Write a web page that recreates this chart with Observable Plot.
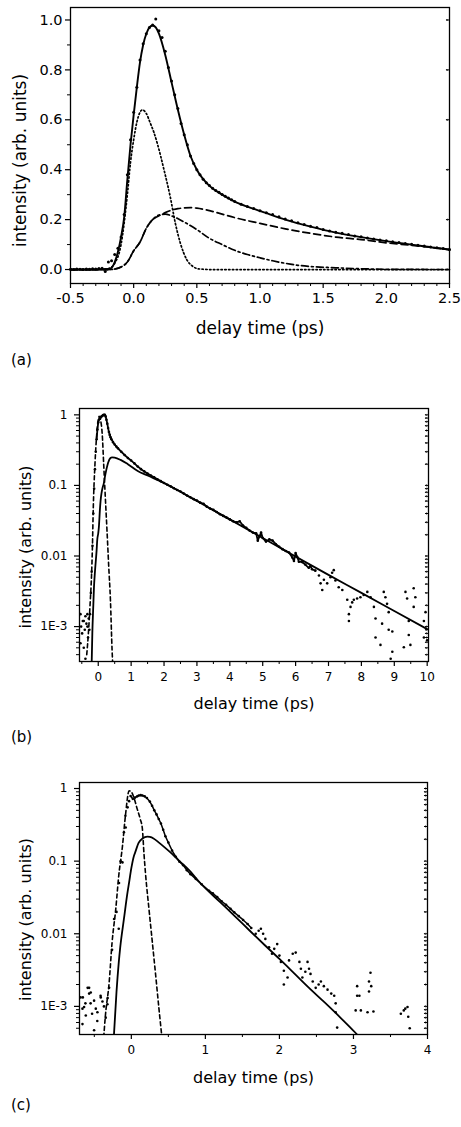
<!DOCTYPE html>
<html><head><meta charset="utf-8">
<script src="https://cdn.jsdelivr.net/npm/d3@7"></script>
<script src="https://cdn.jsdelivr.net/npm/@observablehq/plot@0.6"></script>
<style>
body{margin:0;background:#fff;}
#fig{position:relative;width:461px;height:1127px;background:#fff;font-family:"DejaVu Sans",sans-serif;overflow:hidden;}
.pan{position:absolute;left:0;}
.lab{position:absolute;left:11px;font-size:15px;line-height:18px;color:#000;font-family:"DejaVu Sans",sans-serif;}
</style></head><body><div id="fig"></div>
<script>
// ---------- Panel (a): linear intensity ----------
const aData = [[-0.5,0.001],[-0.475,0],[-0.45,0.002],[-0.425,0.001],[-0.4,0],[-0.375,0.002],[-0.35,0.001],[-0.325,0.003],[-0.3,0.002],[-0.275,0.004],[-0.25,0.005],[-0.225,-0.008],[-0.2,0.03],[-0.175,0.035],[-0.15,0.06],[-0.125,0.085],[-0.1,0.13],[-0.075,0.22],[-0.05,0.38],[-0.025,0.52],[0,0.63],[0.025,0.73],[0.05,0.84],[0.075,0.905],[0.1,0.945],[0.125,0.97],[0.15,0.98],[0.175,1.004],[0.2,0.957],[0.225,0.93],[0.25,0.875],[0.275,0.81],[0.3,0.755],[0.325,0.7],[0.35,0.645],[0.375,0.585],[0.4,0.54],[0.425,0.5],[0.45,0.455],[0.475,0.425],[0.5,0.4],[0.525,0.38],[0.55,0.362],[0.575,0.348],[0.6,0.337],[0.625,0.326],[0.65,0.317],[0.675,0.31],[0.7,0.301],[0.725,0.294],[0.75,0.287],[0.775,0.28],[0.8,0.273],[0.85,0.262],[0.9,0.253],[0.95,0.245],[1.0,0.236],[1.05,0.228],[1.1,0.22],[1.15,0.211],[1.2,0.202],[1.25,0.195],[1.3,0.187],[1.35,0.18],[1.4,0.173],[1.45,0.168],[1.5,0.16],[1.55,0.154],[1.6,0.149],[1.65,0.145],[1.7,0.14],[1.75,0.134],[1.8,0.131],[1.85,0.126],[1.9,0.122],[1.95,0.118],[2.0,0.115],[2.05,0.111],[2.1,0.108],[2.15,0.104],[2.2,0.101],[2.25,0.097],[2.3,0.094],[2.35,0.09],[2.4,0.087],[2.45,0.084],[2.5,0.08]];
const aFit = [[-0.5,0],[-0.3,0],[-0.25,0.001],[-0.2,0.002],[-0.18,0.005],[-0.15,0.03],[-0.125,0.07],[-0.1,0.13],[-0.075,0.21],[-0.05,0.36],[-0.025,0.5],[0,0.62],[0.025,0.73],[0.05,0.83],[0.075,0.9],[0.1,0.945],[0.125,0.97],[0.15,0.978],[0.175,0.97],[0.2,0.945],[0.25,0.86],[0.3,0.75],[0.35,0.64],[0.4,0.54],[0.45,0.455],[0.5,0.4],[0.6,0.335],[0.7,0.3],[0.8,0.272],[0.9,0.252],[1.0,0.235],[1.2,0.2],[1.4,0.172],[1.6,0.148],[1.8,0.13],[2.0,0.114],[2.2,0.1],[2.4,0.086],[2.5,0.08]];
const aShort = [[-0.5,0],[-0.3,0],[-0.2,0.004],[-0.15,0.025],[-0.1,0.1],[-0.05,0.3],[-0.025,0.43],[0,0.52],[0.025,0.59],[0.05,0.63],[0.07,0.64],[0.1,0.625],[0.133,0.585],[0.16,0.55],[0.19,0.5],[0.24,0.4],[0.29,0.29],[0.33,0.185],[0.37,0.105],[0.42,0.04],[0.47,0.012],[0.5,0.004],[0.55,0.001],[0.6,0],[1.0,0],[1.5,0],[2.0,0],[2.5,0]];
const aLong = [[-0.5,0],[-0.2,0],[-0.15,0.002],[-0.1,0.01],[-0.05,0.03],[0,0.075],[0.05,0.11],[0.1,0.165],[0.15,0.2],[0.2,0.215],[0.25,0.228],[0.3,0.238],[0.35,0.244],[0.4,0.247],[0.45,0.248],[0.5,0.246],[0.6,0.236],[0.7,0.222],[0.8,0.208],[1.0,0.185],[1.2,0.163],[1.4,0.145],[1.6,0.13],[1.8,0.12],[2.0,0.107],[2.2,0.097],[2.4,0.086],[2.5,0.079]];
const aMid = [[-0.5,0],[-0.2,0],[-0.15,0.002],[-0.1,0.01],[-0.05,0.03],[0,0.075],[0.05,0.11],[0.1,0.165],[0.15,0.2],[0.2,0.218],[0.25,0.222],[0.3,0.215],[0.4,0.19],[0.5,0.16],[0.6,0.125],[0.7,0.1],[0.8,0.077],[0.9,0.06],[1.0,0.047],[1.1,0.035],[1.2,0.025],[1.3,0.017],[1.4,0.012],[1.6,0.007],[1.8,0.003],[2.0,0.001],[2.5,0]];
const aXTicks = [-0.5,0,0.5,1.0,1.5,2.0,2.5];
const aXMinor = [-0.4,-0.3,-0.2,-0.1,0.1,0.2,0.3,0.4,0.6,0.7,0.8,0.9,1.1,1.2,1.3,1.4,1.6,1.7,1.8,1.9,2.1,2.2,2.3,2.4];
const aYTicks = [0,0.2,0.4,0.6,0.8,1.0];
const aYMinor = [0.1,0.3,0.5,0.7,0.9];

// ---------- Panel (b): log intensity, 0-10 ps ----------
const bData = [[-0.54,0.0015],[-0.54,0.00058],[-0.52,0.001],[-0.49,0.0008],[-0.47,0.0012],[-0.44,0.0012],[-0.44,0.0005],[-0.41,0.0009],[-0.39,0.0014],[-0.39,0.00035],[-0.36,0.0011],[-0.33,0.001],[-0.33,0.0015],[-0.31,0.0007],[-0.29,0.0013],[-0.27,0.0009],
 [-0.25,0.0015],[-0.225,0.003],[-0.2,0.006],[-0.175,0.014],[-0.15,0.04],[-0.125,0.09],[-0.1,0.17],[-0.075,0.3],[-0.05,0.45],[-0.025,0.62],[0,0.78],[0.025,0.86],[0.05,0.9],[0.075,0.92],[0.1,0.95],[0.125,0.97],[0.15,0.99],[0.175,1.0],[0.2,1.0],[0.225,0.95],[0.25,0.85],[0.275,0.75],[0.3,0.65],[0.325,0.57],[0.35,0.52],[0.375,0.48],[0.4,0.45],[0.45,0.41],[0.5,0.38],[0.55,0.355],[0.6,0.335],[0.7,0.3],[0.8,0.27],[0.9,0.245],[1.0,0.225],[1.1,0.205],[1.2,0.185],[1.3,0.17],[1.4,0.158],[1.5,0.147],[1.6,0.138],[1.7,0.13],[1.8,0.122],[1.9,0.115],[2.0,0.108],[2.1,0.102],[2.2,0.097],[2.3,0.091],[2.4,0.086],[2.5,0.082],[2.6,0.077],[2.7,0.072],[2.8,0.068],[2.9,0.064],[3.0,0.061],[3.1,0.057],[3.2,0.055],[3.3,0.05],[3.4,0.047],[3.5,0.045],[3.6,0.042],[3.7,0.039],[3.8,0.037],[3.9,0.035],[4.0,0.033],[4.1,0.031],[4.2,0.03],[4.3,0.031],[4.4,0.027],[4.5,0.025],[4.6,0.023],[4.7,0.0215],[4.8,0.021],[4.85,0.0165],[4.9,0.019],[4.95,0.0215],[5.0,0.018],[5.1,0.016],[5.2,0.0172],[5.3,0.0165],[5.4,0.0147],[5.5,0.0135],[5.6,0.0125],[5.7,0.0118],[5.8,0.0112],[5.9,0.0095],[5.95,0.0085],[6.0,0.011],[6.05,0.0097],[6.1,0.0083],[6.2,0.0082],[6.3,0.0075],[6.4,0.0068],[6.45,0.0072],[6.5,0.0065],[6.6,0.0062],
 [6.71,0.0053],[6.76,0.0041],[6.81,0.0033],[6.86,0.0046],[6.96,0.0041],[7.06,0.005],[7.11,0.0058],[7.16,0.0063],[7.21,0.0045],[7.31,0.0036],[7.42,0.0033],[7.57,0.0024],[7.62,0.0015],[7.62,0.0012],[7.67,0.0019],[7.72,0.0022],[7.77,0.0024],[7.87,0.0025],[7.97,0.0026],[8.07,0.0028],[8.18,0.0031],[8.28,0.0026],[8.38,0.0019],[8.43,0.0013],[8.43,0.0007],[8.58,0.00055],[8.63,0.0011],[8.68,0.0031],[8.73,0.0026],[8.78,0.0021],[8.83,0.0016],[8.83,0.0009],[8.94,0.00085],[8.89,0.00035],[8.94,0.00044],[9.29,0.00051],[9.34,0.0031],[9.39,0.0025],[9.44,0.0012],[9.44,0.00076],[9.49,0.00055],[9.59,0.0035],[9.64,0.0026],[9.59,0.0019],[9.9,0.0012],[9.9,0.0007],[9.95,0.0016],[10.0,0.00064]];
const bFit = [[-0.2,0.0003],[-0.18,0.0008],[-0.15,0.002],[-0.13,0.0036],[-0.1,0.006],[-0.05,0.012],[-0.03,0.017],[0,0.021],[0.02,0.026],[0.05,0.045],[0.07,0.06],[0.1,0.078],[0.13,0.092],[0.17,0.108],[0.2,0.13],[0.25,0.17],[0.3,0.21],[0.37,0.245],[0.42,0.25],[0.5,0.248],[0.68,0.23],[0.9,0.2],[1.2,0.16],[1.5,0.138],[2.0,0.108],[3.0,0.06],[4.0,0.033],[5.0,0.018],[6.0,0.0098],[7.0,0.0054],[8.0,0.003],[9.0,0.00166],[10.0,0.00092]];
const bShort = [[-0.35,0.0004],[-0.3,0.0008],[-0.25,0.002],[-0.2,0.006],[-0.18,0.012],[-0.15,0.05],[-0.1,0.2],[-0.05,0.5],[0,0.85],[0.03,0.95],[0.07,0.85],[0.12,0.54],[0.17,0.18],[0.22,0.061],[0.27,0.021],[0.32,0.0069],[0.37,0.0024],[0.42,0.00047],[0.46,0.0002]];
const bXTicks = [0,1,2,3,4,5,6,7,8,9,10];
const bXMinor = [-0.5,0.5,1.5,2.5,3.5,4.5,5.5,6.5,7.5,8.5,9.5];
const bYTicks = [1,0.1,0.01,0.001];
const bYTickLabels = ["1","0.1","0.01","1E-3"];

// ---------- Panel (c): log intensity, 0-4 ps ----------
const cData = [[-0.685,0.00133],[-0.66,0.00093],[-0.66,0.00057],[-0.655,0.00133],[-0.638,0.00098],[-0.62,0.0011],[-0.615,0.00075],[-0.59,0.0018],[-0.57,0.0018],[-0.57,0.0015],[-0.55,0.0011],[-0.548,0.00155],[-0.53,0.00079],[-0.503,0.0012],[-0.503,0.00047],[-0.48,0.00093],[-0.458,0.00083],[-0.46,0.00063],[-0.415,0.0014],[-0.413,0.00133],[-0.39,0.00117],[-0.37,0.001],[-0.346,0.0007],[-0.323,0.00107],[-0.32,0.0013],[-0.3,0.0018],
 [-0.26,0.006],[-0.233,0.016],[-0.2,0.02],[-0.17,0.0117],[-0.166,0.05],[-0.144,0.1],[-0.12,0.096],[-0.1,0.25],[-0.08,0.42],[-0.076,0.29],[-0.05,0.55],[-0.03,0.67],[-0.01,0.79],[0.02,0.72],[0.05,0.75],[0.08,0.78],[0.1,0.8],[0.126,0.81],[0.15,0.8],[0.18,0.78],[0.21,0.74],[0.25,0.66],[0.28,0.58],[0.31,0.5],[0.34,0.44],[0.37,0.38],[0.4,0.33],[0.43,0.27],[0.46,0.22],[0.5,0.18],[0.55,0.14],[0.6,0.115],[0.65,0.098],[0.7,0.088],[0.75,0.075],[0.8,0.066],[0.87,0.057],[0.95,0.048],[1.05,0.039],[1.1,0.036],[1.16,0.032],[1.22,0.028],[1.28,0.025],[1.34,0.022],[1.39,0.0197],[1.45,0.0175],[1.51,0.0155],[1.57,0.0136],[1.62,0.012],
 [1.68,0.01],[1.72,0.011],[1.75,0.0117],[1.78,0.01],[1.81,0.0085],[1.86,0.0065],[1.9,0.0053],[1.93,0.0062],[1.97,0.0072],[2.0,0.005],[2.02,0.0041],[2.06,0.0031],[2.06,0.002],[2.11,0.0025],[2.13,0.0043],[2.18,0.0053],[2.22,0.0055],[2.27,0.0041],[2.29,0.0033],[2.31,0.0025],[2.35,0.003],[2.38,0.0041],[2.4,0.0033],[2.42,0.0028],[2.45,0.0022],[2.49,0.0018],[2.53,0.002],[2.56,0.0022],[2.6,0.0019],[2.65,0.0017],[2.7,0.0015],[2.74,0.0014],[2.76,0.0011],[2.76,0.00083],[2.78,0.00051],
 [3.03,0.00088],[3.1,0.00088],[3.05,0.0014],[3.08,0.0014],[3.05,0.0019],[3.19,0.00083],[3.21,0.0016],[3.21,0.0022],[3.23,0.0029],[3.24,0.0019],[3.27,0.00085],[3.64,0.00079],[3.68,0.00088],[3.7,0.00093],[3.73,0.00098],[3.74,0.00072],[3.76,0.0005]];
const cFit = [[-0.235,0.0004],[-0.2,0.0016],[-0.17,0.004],[-0.15,0.0065],[-0.1,0.016],[-0.05,0.038],[-0.03,0.051],[0,0.08],[0.035,0.118],[0.05,0.13],[0.1,0.18],[0.15,0.205],[0.216,0.217],[0.25,0.215],[0.3,0.205],[0.373,0.18],[0.45,0.155],[0.554,0.125],[0.65,0.1],[0.78,0.075],[0.93,0.05],[1.2,0.0272],[1.4,0.0174],[1.6,0.011],[1.8,0.007],[2.0,0.0045],[2.2,0.00285],[2.4,0.0018],[2.6,0.00116],[2.8,0.00074],[3.03,0.00043],[3.1,0.00036]];
const cShort = [[-0.38,0.0003],[-0.35,0.00075],[-0.3,0.0021],[-0.26,0.0076],[-0.21,0.022],[-0.17,0.063],[-0.12,0.16],[-0.08,0.42],[-0.03,0.93],[0,0.9],[0.04,0.72],[0.08,0.52],[0.12,0.38],[0.149,0.28],[0.17,0.13],[0.194,0.063],[0.238,0.022],[0.284,0.0076],[0.33,0.0026],[0.373,0.00093],[0.396,0.00055],[0.41,0.0004]];
const cXTicks = [0,1,2,3,4];
const cXMinor = [-0.5,0.5,1.5,2.5,3.5];
const cYTicks = [1,0.1,0.01,0.001];
const cYTickLabels = ["1","0.1","0.01","1E-3"];

const xLabel = "delay time (ps)";
const yLabel = "intensity (arb. units)";
const panelLabels = ["(a)","(b)","(c)"];

// log-scale minor ticks (2..9 x decade) inside a domain
function logMinor(domain) {
  const out = [];
  for (let e = -5; e <= 1; e++) for (let m = 2; m <= 9; m++) {
    const v = m * Math.pow(10, e);
    if (v > domain[0] && v < domain[1]) out.push(+v.toPrecision(3));
  }
  return out;
}

const P = {x: d => d[0], y: d => d[1]};

function axes(c) {
  return [
    Plot.axisX({ticks: c.xTicks, tickSize: 5, tickPadding: c.padX, tickFormat: c.xFmt, label: null, fontSize: c.tickFont, strokeWidth: 1.2}),
    Plot.axisX({ticks: c.xMinor, tickSize: 3, tickFormat: () => "", label: null, strokeWidth: 1}),
    Plot.axisY({ticks: c.yTicks, tickSize: 5, tickPadding: c.padY, tickFormat: c.yFmt, label: null, fontSize: c.tickFont, strokeWidth: 1.2}),
    Plot.axisY({ticks: c.yMinor, tickSize: 3, tickFormat: () => "", label: null, strokeWidth: 1}),
    Plot.vector(c.yTicks.concat(c.yMinorRight || []), {y: d => d, frameAnchor: "right", rotate: -90, length: 3, anchor: "start", strokeWidth: 1}),
    Plot.frame({stroke: "black", strokeWidth: 1.3}),
    Plot.text([xLabel], {text: d => d, frameAnchor: "bottom", textAnchor: "middle", lineAnchor: "middle", dy: c.xLabDy, fontSize: c.labFont}),
    Plot.text([yLabel], {text: d => d, frameAnchor: "left", textAnchor: "middle", lineAnchor: "middle", dx: c.yLabDx, dy: c.yLabDy, rotate: -90, fontSize: c.labFont})
  ];
}

const common = {style: {fontFamily: "DejaVu Sans, sans-serif", color: "black", background: "white", overflow: "visible"}};

// Panel (a)
const yDomA = [-0.056, 1.05];
const plotA = Plot.plot({
  ...common, width: 461, height: 345,
  marginTop: 7, marginBottom: 62, marginLeft: 70, marginRight: 12,
  x: {domain: [-0.5, 2.5]}, y: {domain: yDomA},
  marks: [
    Plot.line(aShort, {...P, stroke: "black", strokeWidth: 1.7, strokeDasharray: "1.4,2.4", curve: "monotone-x"}),
    Plot.line(aMid, {...P, stroke: "black", strokeWidth: 1.7, strokeDasharray: "7,3,2,3", curve: "monotone-x"}),
    Plot.line(aLong, {...P, stroke: "black", strokeWidth: 1.7, strokeDasharray: "7,4", curve: "monotone-x"}),
    Plot.line(aFit, {...P, stroke: "black", strokeWidth: 1.9, curve: "monotone-x"}),
    Plot.dot(aData, {...P, r: 1.5, fill: "black", stroke: null}),
    ...axes({xTicks: aXTicks, xMinor: aXMinor, xFmt: d => d.toFixed(1), yTicks: aYTicks, yMinor: aYMinor,
      yFmt: d => d.toFixed(1), tickFont: 14.5, labFont: 17, padX: 4, padY: 3, xLabDy: 45, yLabDx: -50, yLabDy: 15})
  ]
});

// Panel (b)
const yDomB = [3.2e-4, 1.23];
const plotB = Plot.plot({
  ...common, width: 461, height: 345,
  marginTop: 28, marginBottom: 64, marginLeft: 79, marginRight: 33,
  x: {domain: [-0.57, 10.04]}, y: {type: "log", domain: yDomB},
  marks: [
    Plot.line(bShort, {...P, stroke: "black", strokeWidth: 1.6, strokeDasharray: "4,3", curve: "monotone-x", clip: true}),
    Plot.line(bFit, {...P, stroke: "black", strokeWidth: 1.8, curve: "monotone-x", clip: true}),
    Plot.line(bData.filter(d => d[0] >= -0.05 && d[0] <= 6.6), {...P, stroke: "black", strokeWidth: 1.8, clip: true}),
    Plot.dot(bData, {...P, r: 1.3, fill: "black", stroke: null, clip: true}),
    ...axes({xTicks: bXTicks, xMinor: bXMinor, xFmt: d => String(d), yTicks: bYTicks, yMinor: logMinor(yDomB), yMinorRight: logMinor(yDomB),
      yFmt: d => bYTickLabels[bYTicks.indexOf(d)], tickFont: 12, labFont: 16, padX: 6, padY: 7, xLabDy: 42, yLabDx: -54, yLabDy: 12})
  ]
});

// Panel (c)
const yDomC = [4.1e-4, 1.21];
const plotC = Plot.plot({
  ...common, width: 461, height: 335,
  marginTop: 22, marginBottom: 61, marginLeft: 79, marginRight: 34,
  x: {domain: [-0.7, 4.0]}, y: {type: "log", domain: yDomC},
  marks: [
    Plot.line(cShort, {...P, stroke: "black", strokeWidth: 1.6, strokeDasharray: "4,3", curve: "monotone-x", clip: true}),
    Plot.line(cFit, {...P, stroke: "black", strokeWidth: 1.8, curve: "monotone-x", clip: true}),
    Plot.line(cData.filter(d => d[0] >= -0.01 && d[0] <= 1.62), {...P, stroke: "black", strokeWidth: 1.5, clip: true}),
    Plot.dot(cData, {...P, r: 1.3, fill: "black", stroke: null, clip: true}),
    ...axes({xTicks: cXTicks, xMinor: cXMinor, xFmt: d => String(d), yTicks: cYTicks, yMinor: logMinor(yDomC), yMinorRight: logMinor(yDomC),
      yFmt: d => cYTickLabels[cYTicks.indexOf(d)], tickFont: 12, labFont: 16, padX: 6, padY: 7, xLabDy: 43, yLabDx: -54, yLabDy: 11})
  ]
});

const fig = document.getElementById("fig");
[[plotA, 0], [plotB, 380], [plotC, 760]].forEach(([p, top]) => {
  p.classList.add("pan"); p.style.top = top + "px"; fig.appendChild(p);
});
[[panelLabels[0], 351], [panelLabels[1], 728], [panelLabels[2], 1096]].forEach(([t, top]) => {
  const d = document.createElement("div"); d.className = "lab"; d.style.top = top + "px"; d.textContent = t; fig.appendChild(d);
});
</script></body></html>
